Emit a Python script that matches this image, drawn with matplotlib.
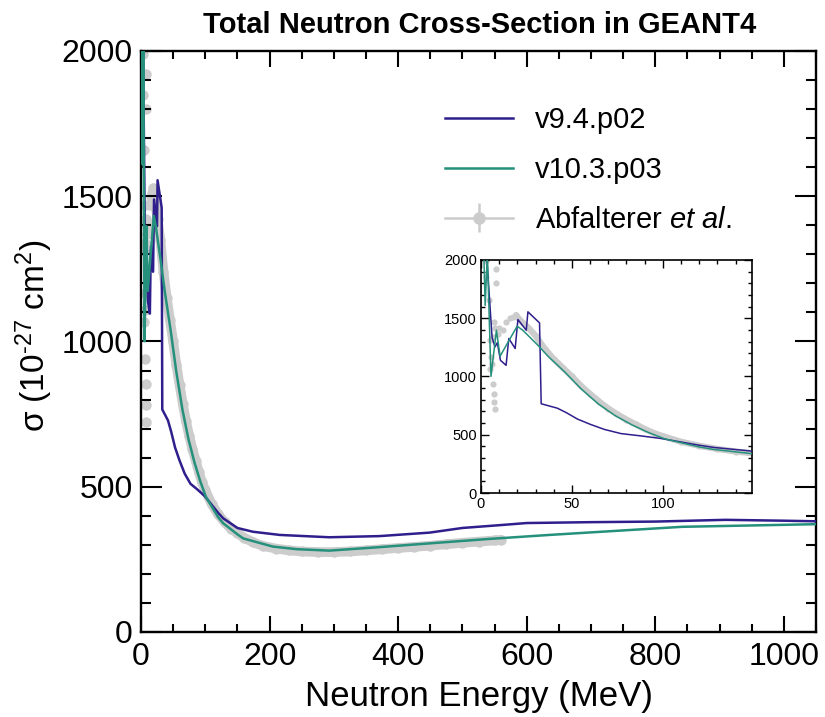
import numpy as np
import matplotlib
matplotlib.use("Agg")
import matplotlib.pyplot as plt
from matplotlib.ticker import MultipleLocator

plt.rcParams['font.family'] = ['Liberation Sans', 'DejaVu Sans']
plt.rcParams['mathtext.fontset'] = 'custom'
plt.rcParams['mathtext.rm'] = 'Liberation Sans'
plt.rcParams['mathtext.it'] = 'Liberation Sans:italic'

# GEANT4 v9.4.p02 (energy in MeV, sigma in 1e-27 cm^2)
v94_E = [0.5, 3.3, 6.1, 7.7, 9.0, 10.7, 13.8, 15.3, 18.8, 20.3, 24.9, 25.8, 32.2, 33.1,
         42, 47, 53, 60, 68, 77, 88, 99, 120, 128, 150, 174, 216, 293, 371, 449, 500,
         560, 600, 635, 700, 800, 909, 1000, 1050]
v94_s = [3000, 2000, 1334, 1254, 1290, 1139, 1096, 1326, 1240, 1489, 1397, 1555, 1460, 766,
         728, 689, 635, 590, 545, 510, 490, 468, 410, 391, 358, 345, 334, 326, 330, 342, 358,
         368, 375, 376, 378, 380, 386, 383, 381]

# GEANT4 v10.3.p03
v103_E = [0.5, 1.5, 2.3, 3.5, 5.5, 8.5, 10.5, 13.4, 19.9, 23, 31.3, 36.8, 46, 55, 64.5,
          73.7, 83, 92, 101, 120, 128, 150, 159, 205, 242, 293, 371, 449, 540, 635, 842, 1050]
v103_s = [3000, 2100, 1610, 2050, 1001, 1397, 1174, 1254, 1432, 1397, 1268, 1175, 1040, 895, 765,
          665, 585, 520, 465, 395, 374, 336, 322, 294, 285, 280, 292, 305, 320, 334, 362, 371]

# Abfalterer et al. data
data_E = [2.5, 3.0, 4.6, 5.0, 5.2, 5.5, 6.0, 6.4, 6.8, 7.0, 7.2, 7.4, 7.6, 7.8, 8.0, 8.4,
          9.2, 10.1, 12, 13.8, 15.7, 17.5, 19.3,
          20, 23, 26, 30, 35, 40, 45, 50, 55, 60, 65, 70, 75, 80, 85, 90, 95, 100, 110,
          120, 130, 140, 150, 160, 175, 190, 210, 230, 250, 275, 300, 325, 350, 375, 400,
          425, 450, 475, 500, 525, 550, 560]
data_s = [1990, 1850, 1660, 1311, 1067, 1168, 1110, 1340, 938, 1469, 780, 852, 723, 1420, 1920, 1800,
          1369, 1412, 1397, 1469, 1498, 1512, 1527,
          1510, 1460, 1420, 1350, 1240, 1150, 1075, 1000, 920, 850, 785, 725, 675, 630, 590, 550, 515, 488, 440,
          405, 378, 356, 340, 325, 308, 296, 287, 281, 277, 275, 275, 277, 281, 285, 289,
          293, 297, 302, 307, 311, 315, 317]
smooth_from = 19  # MeV, above this the points form a continuous band

c94 = '#2e1f8c'
c103 = '#25907c'
cdat = '#cccccc'

fig = plt.figure(figsize=(8.25, 7.17), dpi=100)
ax = fig.add_axes([0.1709, 0.1186, 0.8182, 0.8103])

E = np.array(data_E)
S = np.array(data_s)
band = E >= smooth_from

def draw(a, lw, ms, dlw):
    a.plot(E[band], S[band], '-', color=cdat, lw=dlw, solid_capstyle='round', zorder=1)
    a.plot(E, S, 'o', color=cdat, ms=ms, mec='none', zorder=1)
    a.plot(v94_E, v94_s, color=c94, lw=lw, zorder=3)
    a.plot(v103_E, v103_s, color=c103, lw=lw, zorder=3)

draw(ax, 1.8, 7.5, 7.0)

# legend handles
h94, = ax.plot([], [], color=c94, lw=1.8, label='v9.4.p02')
h103, = ax.plot([], [], color=c103, lw=1.8, label='v10.3.p03')
hdat = ax.errorbar([], [], yerr=[], fmt='o-', color=cdat, ms=8, lw=1.8,
                   capsize=4, label=r'Abfalterer $\it{et\ al.}$')

ax.set_xlim(0, 1050)
ax.set_ylim(0, 2000)
ax.xaxis.set_major_locator(MultipleLocator(200))
ax.xaxis.set_minor_locator(MultipleLocator(50))
ax.yaxis.set_major_locator(MultipleLocator(500))
ax.yaxis.set_minor_locator(MultipleLocator(100))
ax.tick_params(which='both', direction='in', top=True, right=True, width=1.5, labelsize=23)
ax.tick_params(axis='x', which='major', length=11.5, pad=7)
ax.tick_params(axis='x', which='minor', length=6)
ax.tick_params(axis='y', which='major', length=15, pad=6)
ax.tick_params(axis='y', which='minor', length=7.5)
for sp in ax.spines.values():
    sp.set_linewidth(1.7)

ax.set_xlabel('Neutron Energy (MeV)', fontsize=25)
ax.xaxis.set_label_coords(0.5, -0.083)
ax.set_ylabel(r'σ (10$^{\text{-27}}$ cm$^{2}$)', fontsize=24)
ax.yaxis.set_label_coords(-0.128, 0.51)

fig.text(0.5815, 0.954, 'Total Neutron Cross-Section in GEANT4', ha='center', va='baseline',
         fontsize=21, fontweight='bold')

fig.legend(handles=[h94, h103, hdat], loc='upper left', bbox_to_anchor=(0.539, 0.852),
           bbox_transform=fig.transFigure, frameon=False, fontsize=21, borderpad=0,
           borderaxespad=0, handlelength=2.35, handletextpad=0.75, labelspacing=0.75)

# inset zoom on the low energy part
ins = fig.add_axes([0.5830, 0.3124, 0.3285, 0.325])
draw(ins, 1.1, 4.5, 4.5)
ins.set_xlim(0, 149)
ins.set_ylim(0, 2000)
ins.xaxis.set_major_locator(MultipleLocator(50))
ins.xaxis.set_minor_locator(MultipleLocator(10))
ins.yaxis.set_major_locator(MultipleLocator(500))
ins.yaxis.set_minor_locator(MultipleLocator(100))
ins.tick_params(which='both', direction='in', top=True, right=True, width=1.0, labelsize=10.5, pad=3)
ins.tick_params(which='major', length=6)
ins.tick_params(which='minor', length=3)
for sp in ins.spines.values():
    sp.set_linewidth(1.2)

fig.savefig('out.png', dpi=100)
